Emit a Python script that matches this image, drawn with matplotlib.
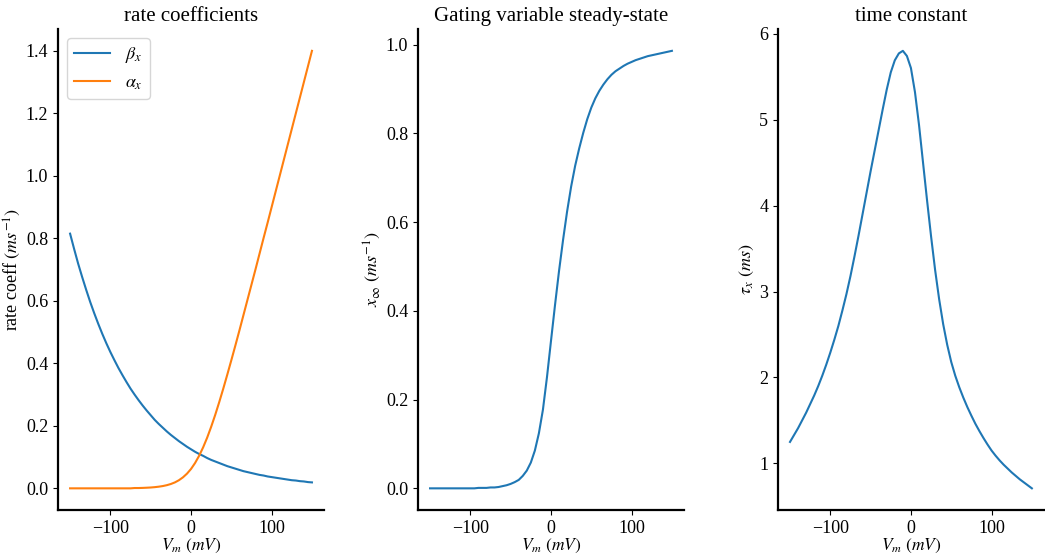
import matplotlib
matplotlib.use("Agg")
import matplotlib.pyplot as plt

plt.rcParams['font.family'] = ['Liberation Serif', 'DejaVu Serif']
plt.rcParams['mathtext.fontset'] = 'stix'

# membrane potential grid (mV)
v_m = list(range(-150, 155, 5))

# rate coefficients (ms^-1)
beta_x = [0.815, 0.766, 0.719, 0.676, 0.635, 0.596, 0.560, 0.526, 0.494, 0.464,
          0.436, 0.410, 0.385, 0.362, 0.340, 0.319, 0.300, 0.282, 0.265, 0.249,
          0.234, 0.219, 0.206, 0.194, 0.182, 0.171, 0.161, 0.151, 0.142, 0.133,
          0.125, 0.117, 0.110, 0.104, 0.097, 0.091, 0.086, 0.081, 0.076, 0.071,
          0.067, 0.063, 0.059, 0.055, 0.052, 0.049, 0.046, 0.043, 0.041, 0.038,
          0.036, 0.034, 0.032, 0.030, 0.028, 0.026, 0.025, 0.023, 0.022, 0.020,
          0.019]
alpha_x = [0.000, 0.000, 0.000, 0.000, 0.000, 0.000, 0.000, 0.000, 0.000, 0.000,
           0.000, 0.000, 0.000, 0.000, 0.000, 0.000, 0.001, 0.001, 0.0014, 0.002,
           0.0027, 0.0038, 0.0053, 0.0073, 0.0101, 0.0139, 0.019, 0.026, 0.0352, 0.047,
           0.062, 0.081, 0.104, 0.131, 0.162, 0.197, 0.235, 0.276, 0.319, 0.364,
           0.410, 0.457, 0.505, 0.554, 0.603, 0.652, 0.701, 0.751, 0.801, 0.850,
           0.900, 0.950, 1.000, 1.050, 1.100, 1.150, 1.200, 1.250, 1.300, 1.350,
           1.400]

# steady state
x_inf = [0.000, 0.000, 0.000, 0.000, 0.000, 0.000, 0.000, 0.000, 0.000, 0.000,
         0.000, 0.000, 0.001, 0.001, 0.001, 0.002, 0.002, 0.003, 0.005, 0.007,
         0.010, 0.014, 0.019, 0.028, 0.040, 0.058, 0.085, 0.124, 0.177, 0.250,
         0.332, 0.413, 0.490, 0.560, 0.624, 0.680, 0.727, 0.766, 0.801, 0.832,
         0.858, 0.879, 0.896, 0.910, 0.922, 0.932, 0.940, 0.946, 0.952, 0.957,
         0.961, 0.965, 0.968, 0.971, 0.974, 0.976, 0.978, 0.980, 0.982, 0.984,
         0.986]

# time constant (ms)
tau_x = [1.25, 1.33, 1.41, 1.50, 1.59, 1.69, 1.79, 1.90, 2.02, 2.15,
         2.29, 2.44, 2.60, 2.78, 2.97, 3.18, 3.41, 3.65, 3.90, 4.15,
         4.40, 4.64, 4.88, 5.12, 5.35, 5.55, 5.69, 5.77, 5.80, 5.74,
         5.60, 5.32, 4.94, 4.50, 4.06, 3.64, 3.25, 2.91, 2.62, 2.38,
         2.18, 2.02, 1.885, 1.765, 1.655, 1.555, 1.46, 1.375, 1.295, 1.22,
         1.15, 1.09, 1.035, 0.985, 0.94, 0.895, 0.855, 0.815, 0.78, 0.745,
         0.71]

fig, axs = plt.subplots(1, 3, figsize=(10.45, 5.57), dpi=100)
fig.subplots_adjust(left=0.0555, right=0.999, top=0.948, bottom=0.084, wspace=0.353)

ax = axs[0]
ax.plot(v_m, beta_x, color='#1f77b4', lw=1.5, label=r'$\beta_x$')
ax.plot(v_m, alpha_x, color='#ff7f0e', lw=1.5, label=r'$\alpha_x$')
ax.set_title('rate coefficients', fontsize=15)
ax.set_ylabel(r'rate coeff $(ms^{-1})$', fontsize=13, labelpad=2)
ax.legend(loc='upper left', fontsize=13)

ax = axs[1]
ax.plot(v_m, x_inf, color='#1f77b4', lw=1.5)
ax.set_title('Gating variable steady-state', fontsize=15)
ax.set_ylabel(r'$x_\infty$ $(ms^{-1})$', fontsize=13, labelpad=2)

ax = axs[2]
ax.plot(v_m, tau_x, color='#1f77b4', lw=1.5)
ax.set_title('time constant', fontsize=15)
ax.set_ylabel(r'$\tau_x$ $(ms)$', fontsize=13, labelpad=2)

for ax in axs:
    ax.set_xlabel(r'$V_m$ $(mV)$', fontsize=12.5, labelpad=0)
    ax.spines['top'].set_visible(False)
    ax.spines['right'].set_visible(False)
    ax.spines['left'].set_linewidth(1.6)
    ax.spines['bottom'].set_linewidth(1.6)
    ax.tick_params(labelsize=13)

fig.savefig('out.png')
